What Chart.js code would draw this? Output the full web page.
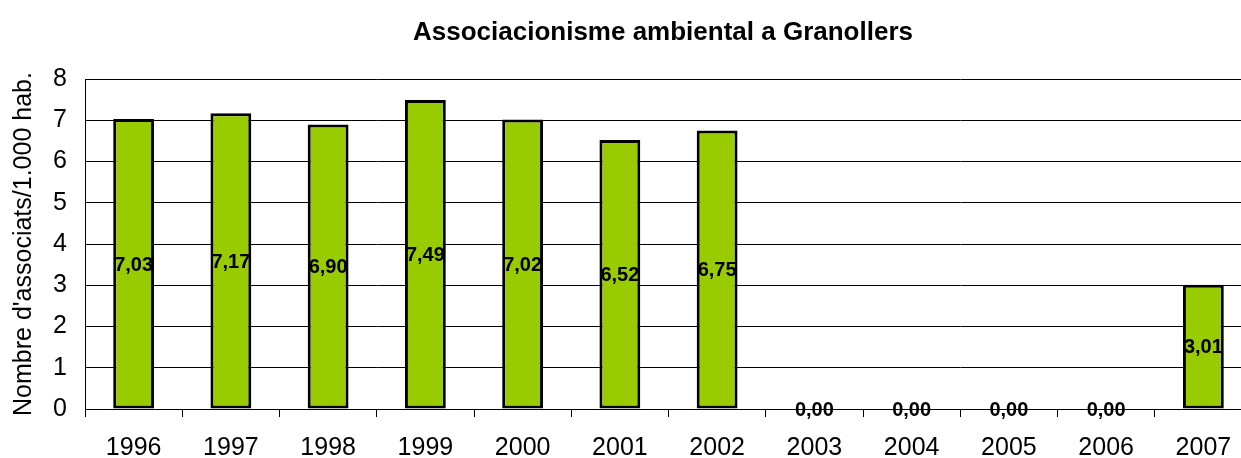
<!DOCTYPE html>
<html>
<head>
<meta charset="utf-8">
<script src="https://cdn.jsdelivr.net/npm/chart.js@4/dist/chart.umd.min.js"></script>
<style>
html,body{margin:0;padding:0;background:#fff;overflow:hidden;}
#wrap{position:relative;width:1260px;height:458px;}
</style>
</head>
<body>
<div id="wrap"><canvas id="c" width="1260" height="458"></canvas></div>
<script>
const years = ['1996','1997','1998','1999','2000','2001','2002','2003','2004','2005','2006','2007'];
const values = [7.03, 7.17, 6.90, 7.49, 7.02, 6.52, 6.75, 0.00, 0.00, 0.00, 0.00, 3.01];
const yTicks = [0,1,2,3,4,5,6,7,8];
const titleText = 'Associacionisme ambiental a Granollers';
const yTitle = "Nombre d'associats/1.000 hab.";

const FONT = "'Liberation Sans', Arial, sans-serif";

const titlePlugin = {
  id: 'customTitle',
  afterDraw(chart) {
    const ctx = chart.ctx;
    ctx.save();
    ctx.font = 'bold 26px ' + FONT;
    ctx.fillStyle = '#000';
    ctx.textAlign = 'center';
    ctx.textBaseline = 'alphabetic';
    ctx.fillText(titleText, 663, 40);
    ctx.restore();
  }
};

const labelPlugin = {
  id: 'valueLabels',
  afterDatasetsDraw(chart) {
    const ctx = chart.ctx;
    const xs = chart.scales.x, ys = chart.scales.y;
    ctx.save();
    ctx.font = 'bold 20px ' + FONT;
    ctx.fillStyle = '#000';
    ctx.textAlign = 'center';
    ctx.textBaseline = 'middle';
    values.forEach((v, i) => {
      const x = xs.getPixelForValue(i);
      const y = ys.getPixelForValue(v / 2);
      ctx.fillText(v.toFixed(2).replace('.', ','), x, y + 1);
    });
    ctx.restore();
  }
};

new Chart(document.getElementById('c'), {
  type: 'bar',
  data: {
    labels: years,
    datasets: [{
      data: values,
      backgroundColor: '#99CC00',
      borderColor: '#000',
      borderWidth: 3,
      borderSkipped: false,
      barPercentage: 0.42,
      categoryPercentage: 1.0
    }]
  },
  options: {
    responsive: false,
    animation: false,
    devicePixelRatio: 1,
    layout: { padding: { top: 79, right: 8, bottom: 0, left: 0 } },
    plugins: { legend: { display: false }, title: { display: false }, tooltip: { enabled: false } },
    scales: {
      x: {
        offset: true,
        afterFit(scale) { scale.height = 49; },
        grid: { display: true, drawOnChartArea: false, drawTicks: true, tickLength: 8, color: '#000', offset: true },
        border: { display: true, color: '#000', width: 1 },
        ticks: { color: '#000', font: { family: FONT, size: 25 }, padding: 16, maxRotation: 0, autoSkip: false }
      },
      y: {
        min: 0, max: 8,
        afterBuildTicks(scale) { scale.ticks = yTicks.map(v => ({ value: v })); },
        afterFit(scale) { scale.width = 85; },
        grid: { color: '#000', lineWidth: 1, drawTicks: false },
        border: { display: true, color: '#000', width: 1 },
        ticks: { color: '#000', font: { family: FONT, size: 25 }, padding: 18 },
        title: { display: true, text: yTitle, color: '#000', font: { family: FONT, size: 25 }, padding: { top: 9, bottom: 0 } }
      }
    }
  },
  plugins: [titlePlugin, labelPlugin]
});
</script>
</body>
</html>
